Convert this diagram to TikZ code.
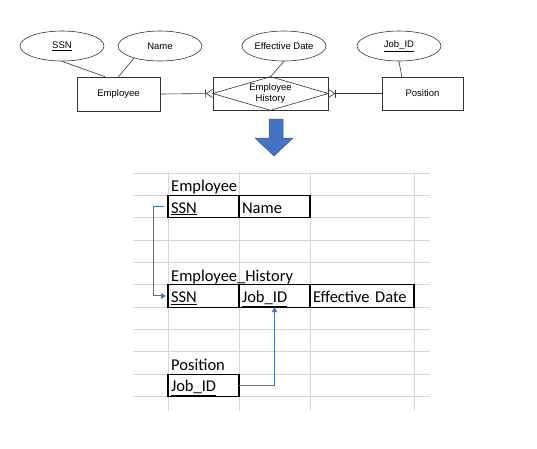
\documentclass[tikz,border=0pt]{standalone}
\usepackage{fontspec}
\setmainfont{Carlito}
\newfontfamily\arialfont{Liberation Sans}
\usepackage{xcolor}
\usepackage{tikz}
\usetikzlibrary{shapes.geometric, positioning, arrows.meta}
\definecolor{bleu}{HTML}{4472C4}
\definecolor{grille}{HTML}{D6D6D6}
\tikzset{
	x=1pt, y=-1pt, % une unité = un pixel, y vers le bas
	schema/.style={line width=0.6pt, draw=black!80, font=\arialfont\fontsize{9.5}{11.5}\selectfont}, % partie E/A
	entite/.style={schema, rectangle, minimum width=#1, minimum height=33pt, inner sep=0pt, align=center}, % entités
	attribut/.style={schema, ellipse, minimum width=84pt, minimum height=30pt, inner sep=0pt}, % attributs
	patte/.style={schema, -{Bar[width=8pt]Straight Barb[reversed, length=6pt, width=8pt]}}, % patte d'oie
	cellule/.style={draw, line width=1.1pt, outer sep=0pt, minimum width=#1, minimum height=22.3pt,
		text width=#1-6pt, inner xsep=3pt, inner ysep=0pt, align=left, text height=15pt, text depth=2pt,
		font=\fontsize{16.5}{19}\selectfont}, % cases du tableur
	cellule/.default=71pt,
	titre/.style={inner sep=0pt, anchor=south west, text height=15pt, text depth=2pt, font=\fontsize{16.5}{19}\selectfont}, % noms des tables
	lien/.style={draw=bleu, line width=1pt, -{Triangle[length=5pt, width=5.5pt]}}, % clés étrangères
}

\begin{document}
\begin{tikzpicture}
	\useasboundingbox (0,0) rectangle (537,448);
	
	% Entités et association
	\node[entite=83pt, minimum height=34pt] (emp) at (118.5,94) {Employee};
	\node[entite=115pt] (eh) at (270.5,93.5) {Employee\\History};
	\node[entite=81pt] (pos) at (422.5,93.5) {Position};
	\draw[schema] (eh.west) -- (eh.north) -- (eh.east) -- (eh.south) -- cycle; % losange
	
	% Attributs
	\node[attribut] (ssn) at (62,46) {\underline{SSN}};
	\node[attribut] (name) at (160,46) {Name};
	\node[attribut] (date) at (284,46) {Effective Date};
	\node[attribut] (jobid) at (399,46) {\underline{Job\_ID}};
	
	% Liens
	\path[schema]
	(ssn.south) edge (emp.128)
	(name.205) edge (emp.north)
	(date.south) edge (eh.north)
	(jobid.south) edge (pos.141);
	\draw[patte] (emp.east) -- (eh.west);
	\draw[patte] (pos.west) -- (eh.east);
	
	% Grosse flèche
	\fill[bleu, draw=bleu!80!black, line width=0.5pt] (269,119) -- (283,119) -- (283,138) -- (293,138)
		-- (274,156) -- (255,138) -- (269,138) -- cycle;
	
	% Grille du tableur
	\foreach \k in {0,...,10}
		\draw[grille, line width=1pt] (133,173+22.35*\k) -- (430,173+22.35*\k);
	\foreach \x in {168,239,310,414}
		\draw[grille, line width=1pt] (\x,172) -- (\x,411);
	
	% Tables
	\node[cellule] (e-ssn) at (203.5,206.55) {\underline{SSN}};
	\node[cellule, right=0pt of e-ssn] (e-name) {Name};
	\node[titre, above=1.4pt of e-ssn.north west, anchor=south west, xshift=3pt] (t-emp) {Employee};
	
	\node[cellule] (h-ssn) at (203.5,295.95) {\underline{SSN}};
	\node[cellule, right=0pt of h-ssn] (h-job) {\underline{Job\_ID}};
	\node[cellule=104pt, right=0pt of h-job] (h-date) {Effective Date};
	\node[titre, above=1.4pt of h-ssn.north west, anchor=south west, xshift=3pt] (t-hist) {Employee\_History};
	
	\node[cellule] (p-job) at (203.5,385.3) {\underline{Job\_ID}};
	\node[titre, above=1.4pt of p-job.north west, anchor=south west, xshift=3pt] (t-pos) {Position};
	
	% Clés étrangères
	\draw[lien] ([xshift=-4pt]e-ssn.west) -- ++(-11,0) |- ([xshift=-2pt]h-ssn.west);
	\draw[lien] (p-job.east) -| (h-job.south);
\end{tikzpicture}
\end{document}
